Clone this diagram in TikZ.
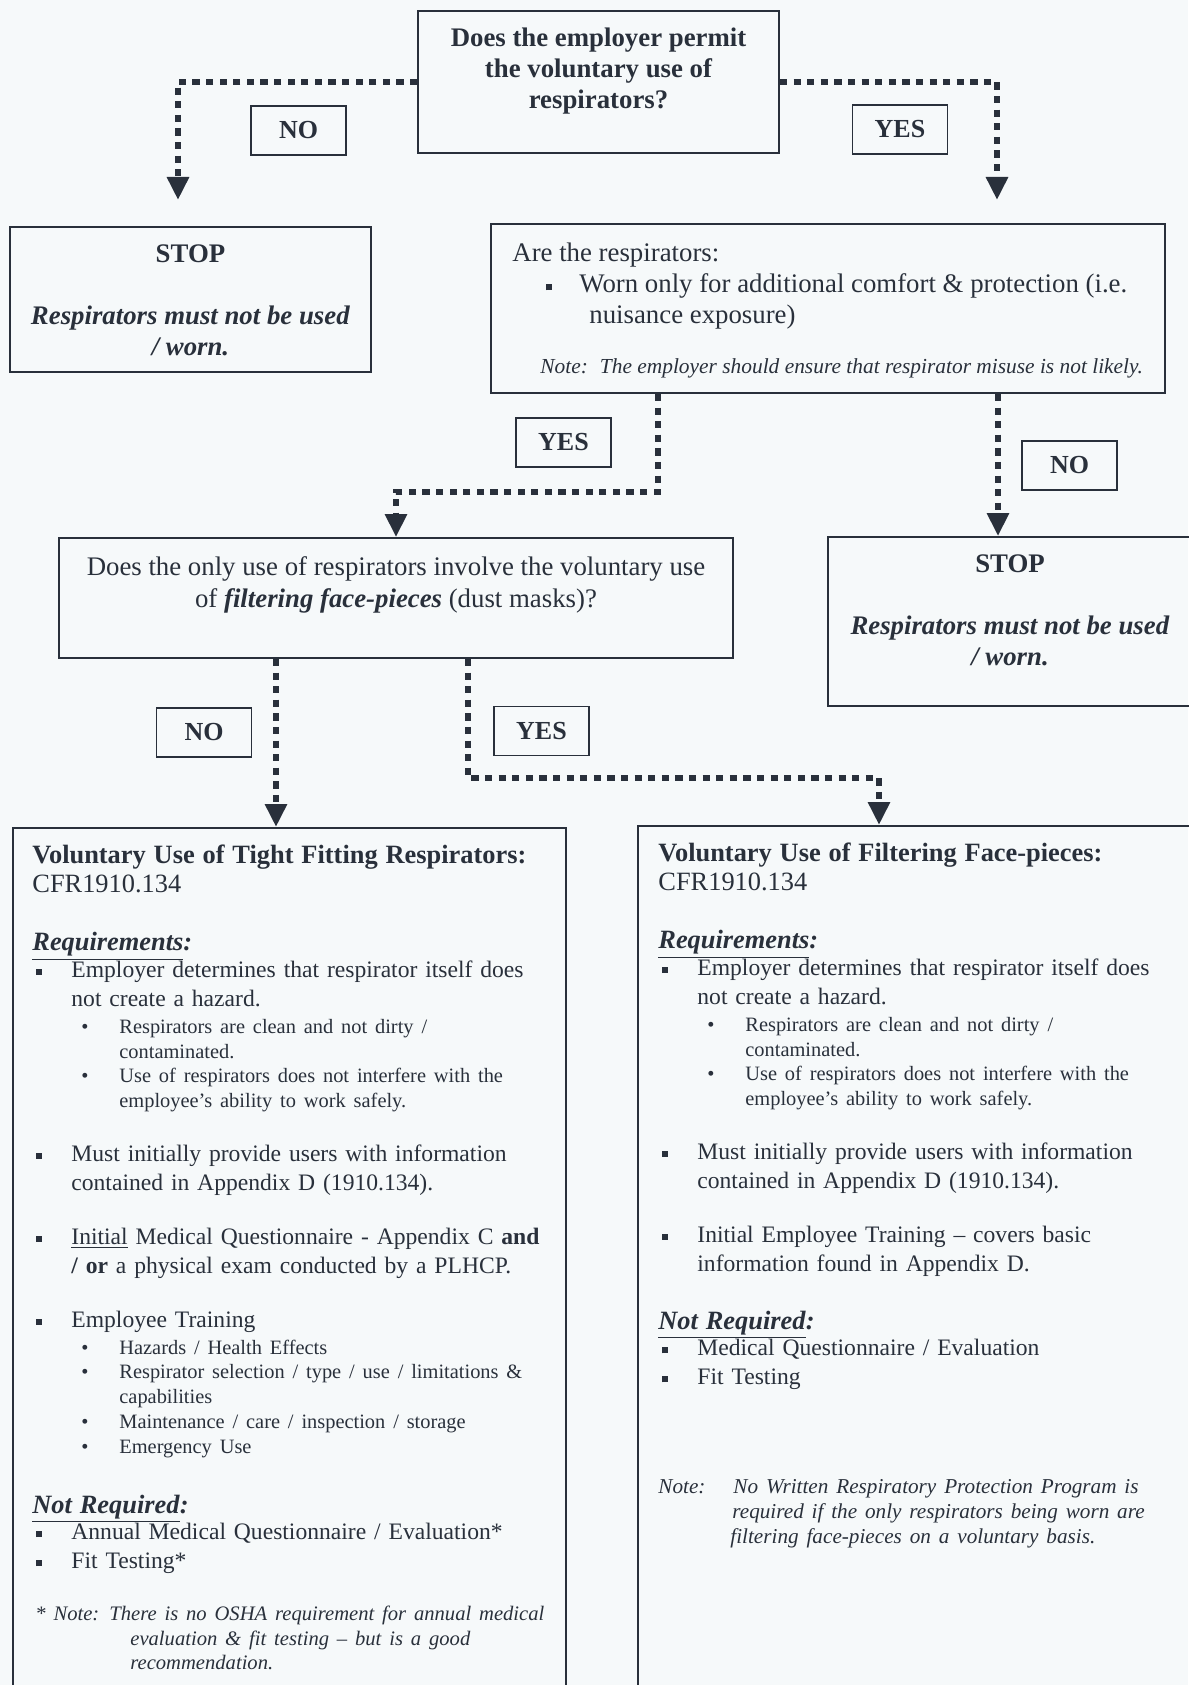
\documentclass[tikz,border=0pt]{standalone}
\usepackage{fontspec}
\setmainfont{Liberation Serif}
\usetikzlibrary{arrows.meta}

\definecolor{ink}{rgb}{0.16,0.19,0.23}
\definecolor{paper}{rgb}{0.965,0.978,0.98}
\newcommand{\topfont}{\fontsize{13.4}{15.5}\selectfont}
\newcommand{\bodyfont}{\fontsize{11.8}{14.5}\selectfont}
\newcommand{\titlefont}{\fontsize{13.2}{14.5}\selectfont}
\newcommand{\subfont}{\fontsize{10.2}{12.4}\selectfont}
\newcommand{\notefont}{\fontsize{10.6}{12.4}\selectfont\itshape}
\newcommand{\sqb}{\rule[1.3pt]{3pt}{3pt}}
\newcommand{\heading}[1]{\noindent{\titlefont\underline{\textbf{\textit{#1}}}\textbf{\textit{:}}}\par
  \prevdepth=\dimexpr\prevdepth+1.2pt\relax}

\newenvironment{sqlist}[1][0pt]{\begin{list}{\sqb}{%
  \setlength{\leftmargin}{19.5pt}\setlength{\labelsep}{14.5pt}%
  \setlength{\labelwidth}{5pt}\setlength{\itemsep}{#1}%
  \setlength{\parsep}{0pt}\setlength{\topsep}{0pt}\setlength{\partopsep}{0pt}}}%
 {\end{list}}
\newenvironment{dotlist}{\par\subfont\begin{list}{\textbullet}{%
  \setlength{\leftmargin}{24pt}\setlength{\labelsep}{15.5pt}%
  \setlength{\labelwidth}{8pt}\setlength{\itemsep}{0pt}%
  \setlength{\parsep}{0pt}\setlength{\topsep}{1pt}\setlength{\partopsep}{0pt}}}%
 {\end{list}}

\tikzset{
  frame/.style = {draw=ink, line width=0.9pt, inner sep=0pt},
  toptext/.style = {text=ink, inner sep=0pt, align=center},
  bodytext/.style = {text=ink, inner sep=0pt, anchor=north west, text width=290pt, align=left, font=\bodyfont},
  answer/.style = {draw=ink, line width=0.9pt, inner sep=0pt, minimum width=47.5pt, minimum height=24.5pt, text=ink, font=\fontsize{13}{15}\selectfont\bfseries},
  flow/.style = {ink, line width=3pt, dash pattern=on 3.6pt off 3.2pt, -{Triangle[length=11.5pt,width=10.5pt]}}
}

\begin{document}
\begin{tikzpicture}[x=0.5pt, y=-0.5pt]
\fill[paper] (0,0) rectangle (1188,1685);
\useasboundingbox (0,0) rectangle (1188,1685);

% boxes
\node[frame, minimum width=180.5pt, minimum height=71pt] (q1) at (598.5,82) {};
\node[frame, minimum width=180.5pt, minimum height=72.5pt] (stopL) at (190.5,299.5) {};
\node[frame, minimum width=337pt, minimum height=84.5pt] (are) at (828,308.5) {};
\node[frame, minimum width=337pt, minimum height=60pt] (q2) at (396,598) {};
\node[frame, minimum width=182pt, minimum height=84.5pt] (stopR) at (1010,621.5) {};
\node[frame, anchor=north west, minimum width=276.5pt, minimum height=440pt] (bigL) at (12,827) {};
\node[frame, anchor=north west, minimum width=282pt, minimum height=440pt] (bigR) at (637,825) {};

% questions and stops
\node[toptext, font=\topfont\bfseries, anchor=north] (q1txt) at (598.5,28) {Does the employer permit\\the voluntary use of\\respirators?};
\node[toptext, font=\topfont\bfseries, anchor=north] (stopLtxt) at (190.5,244) {STOP\\[15.5pt]\textit{Respirators must not be used}\\\textit{/ worn.}};
\node[toptext, font=\topfont, anchor=north west, align=left] (aretxt) at (512,243) {Are the respirators:\\
\hspace*{17pt}\makebox[16.5pt][l]{\sqb}Worn only for additional comfort \& protection (i.e.\\
\hspace*{38.5pt}nuisance exposure)\\[9.5pt]
\hspace*{14pt}{\fontsize{10.7}{12}\selectfont\itshape Note:\hspace{6pt}The employer should ensure that respirator misuse is not likely.}};
\node[toptext, font=\fontsize{13.4}{16}\selectfont, anchor=north] (q2txt) at (396,556) {Does the only use of respirators involve the voluntary use\\of \textbf{\textit{filtering face-pieces}} (dust masks)?};
\node[toptext, font=\topfont\bfseries, anchor=north] (stopRtxt) at (1010,554) {STOP\\[15.5pt]\textit{Respirators must not be used}\\\textit{/ worn.}};

% tight fitting
\node[bodytext] (bigLtxt) at (32,845) {%
{\titlefont\textbf{Voluntary Use of Tight Fitting Respirators:}}\\
{\titlefont CFR1910.134}\\[14.5pt]
\heading{Requirements}
\begin{sqlist}[12.4pt]
\item Employer determines that respirator itself does\newline not create a hazard.
 \begin{dotlist}
 \item Respirators are clean and not dirty /\newline contaminated.
 \item Use of respirators does not interfere with the\newline employee’s ability to work safely.
 \end{dotlist}
\item Must initially provide users with information\newline contained in Appendix D (1910.134).
\item \underline{Initial} Medical Questionnaire - Appendix C \textbf{and}\newline \textbf{/ or} a physical exam conducted by a PLHCP.
\item Employee Training
 \begin{dotlist}
 \item Hazards / Health Effects
 \item Respirator selection / type / use / limitations \&\newline capabilities
 \item Maintenance / care / inspection / storage
 \item Emergency Use
 \end{dotlist}
\end{sqlist}
\vspace{14.5pt}
\heading{Not Required}
\begin{sqlist}
\item Annual Medical Questionnaire / Evaluation*
\item Fit Testing*
\end{sqlist}
\vspace{13.4pt}
{\fontsize{10.3}{12.4}\selectfont\itshape\noindent\makebox[38.5pt][l]{\hspace{1.5pt}* Note:}There is no OSHA requirement for annual medical\newline
\hspace*{49pt}evaluation \& fit testing – but is a good\newline
\hspace*{49pt}recommendation.\par}};

% filtering face-pieces
\node[bodytext] (bigRtxt) at (658,843) {%
{\titlefont\textbf{Voluntary Use of Filtering Face-pieces:}}\\
{\titlefont CFR1910.134}\\[14.5pt]
\heading{Requirements}
\begin{sqlist}[12.4pt]
\item Employer determines that respirator itself does\newline not create a hazard.
 \begin{dotlist}
 \item Respirators are clean and not dirty /\newline contaminated.
 \item Use of respirators does not interfere with the\newline employee’s ability to work safely.
 \end{dotlist}
\item Must initially provide users with information\newline contained in Appendix D (1910.134).
\item Initial Employee Training – covers basic\newline information found in Appendix D.
\end{sqlist}
\vspace{14.5pt}
\heading{Not Required}
\begin{sqlist}
\item Medical Questionnaire / Evaluation
\item Fit Testing
\end{sqlist}
\vspace{42pt}
{\notefont\noindent\makebox[37.5pt][l]{Note:}No Written Respiratory Protection Program is\newline
\hspace*{37pt}required if the only respirators being worn are\newline
\hspace*{36pt}filtering face-pieces on a voluntary basis.\par}};

% answers
\node[answer] (no1) at (298.5,130.5) {NO};
\node[answer] (yes1) at (900,129.5) {YES};
\node[answer] (yes2) at (563.5,442.5) {YES};
\node[answer] (no2) at (1069.5,465.5) {NO};
\node[answer] (no3) at (204,732.5) {NO};
\node[answer] (yes3) at (541.5,731) {YES};

% connectors
\coordinate (tipL) at (178,200);
\coordinate (tipR) at (997,200);
\draw[flow] (q1.west) -| (tipL);
\draw[flow] (q1.east) -| (tipR);
\draw[flow] ([xshift=-85pt]are.south) -- ++(0,98) -| (q2.north);
\draw[flow] ([xshift=85pt]are.south) -- ([xshift=85pt]are.south |- stopR.north);
\draw[flow] ([xshift=-60pt]q2.south) -- ([xshift=-60pt]q2.south |- bigL.north);
\draw[flow] ([xshift=36pt]q2.south) -- ++(0,119) -| ([xshift=121pt]bigR.north west);
\end{tikzpicture}
\end{document}
